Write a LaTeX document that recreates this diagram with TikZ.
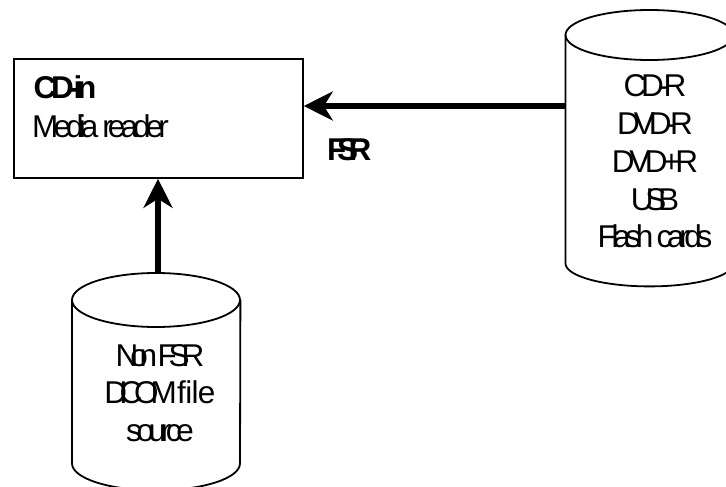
\documentclass[tikz,border=0pt]{standalone}
\usepackage{fontspec}
\setmainfont[LetterSpace=-17]{Liberation Sans}
\usetikzlibrary{arrows.meta,calc}
\tikzset{
  boxstyle/.style={draw=black,line width=1.8pt,fill=white,inner sep=0pt,minimum width=289pt,minimum height=119pt},
  cylspace/.style={inner sep=0pt,minimum width=168pt},
  cylline/.style={draw=black,line width=1.8pt},
  label/.style={inner sep=0pt,font=\fontsize{31.5}{37.8}\selectfont},
  bigarrow/.style={draw=black,line width=6pt,-{Stealth[length=29pt,width=29pt,inset=9pt]}}
}
\newcommand{\cyldraw}[3]{%
  \draw[cylline] (#1.north west) ++(0,#2) coordinate (#1tl)
     arc[start angle=180,end angle=540,x radius=84pt,y radius=#2pt];
  \draw[cylline] (#1tl) -- ($(#1.south west)+(0,-#3)$) coordinate (#1bl)
     arc[start angle=180,end angle=360,x radius=84pt,y radius=#3pt]
     -- (#1tl -| #1.east);
}
\newcommand{\squeezed}[2]{{\addfontfeature{LetterSpace=#1}#2}}
\begin{document}
\begin{tikzpicture}[x=1pt,y=-1pt]
\useasboundingbox (0,0) rectangle (726,487);
\clip (0,0) rectangle (726,487);
\fill[white] (0,0) rectangle (726,487);
\node[boxstyle,anchor=north west] (box) at (13,58) {};
\node[cylspace,anchor=north west,minimum height=276pt] (rw) at (565.5,10) {};
\node[cylspace,anchor=north west,minimum height=217pt] (src) at (72,273) {};
\cyldraw{rw}{25}{23}
\cyldraw{src}{27}{27}
\node[label,anchor=base west] (t1) at (33.5,99) {\bfseries\addfontfeature{LetterSpace=-17}CD-in};
\node[label,anchor=base west] (t2) at (32,137) {\squeezed{-15.5}{Media reader}};
\node[label,anchor=base west] (fsr) at (327,160.7) {\bfseries\addfontfeature{LetterSpace=-30}FSR};
\node[label,align=center,anchor=center] (rwt) at (655,161.5) {CD-R\\\squeezed{-19}{DVD-R}\\\squeezed{-17}{DVD+R}\\\squeezed{-26}{USB}\\Flash cards};
\node[label,align=center,anchor=center] (srct) at (160,393) {\squeezed{-26}{Non FSR}\\\squeezed{-26}{DICOM}\hspace{-3pt} \squeezed{-2}{file}\\source};
\coordinate (ha) at (0,106);
\coordinate (va) at (158,0);
\draw[bigarrow] (rw.west |- ha) -- (box.east |- ha);
\draw[bigarrow] (va |- src.north) -- (va |- box.south);
\end{tikzpicture}
\end{document}
